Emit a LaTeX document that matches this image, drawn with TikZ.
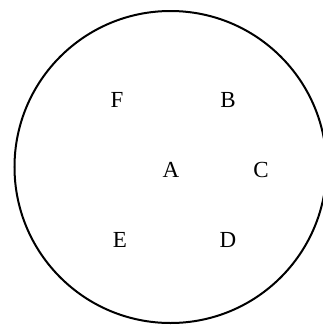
\documentclass[tikz,border=0pt]{standalone}
\usepackage{fontspec}
\setmainfont{Liberation Serif}
\begin{document}
\begin{tikzpicture}[x=1pt,y=-1pt,
  lbl/.style={inner sep=0pt,font=\fontsize{23}{27}\selectfont},
  ring/.style={draw=black,line width=2pt}]
\useasboundingbox (0,0) rectangle (323,325);
\fill[white] (0,0) rectangle (323,325);
\node[ring,circle,minimum size=312pt,inner sep=0pt] (O) at (170.5,167) {};
\node[lbl] (F) at (117,100) {F};
\node[lbl] (B) at (228,100) {B};
\node[lbl] (A) at (171,170) {A};
\node[lbl] (C) at (261,170) {C};
\node[lbl] (E) at (120,240) {E};
\node[lbl] (D) at (228,240) {D};
\end{tikzpicture}
\end{document}
